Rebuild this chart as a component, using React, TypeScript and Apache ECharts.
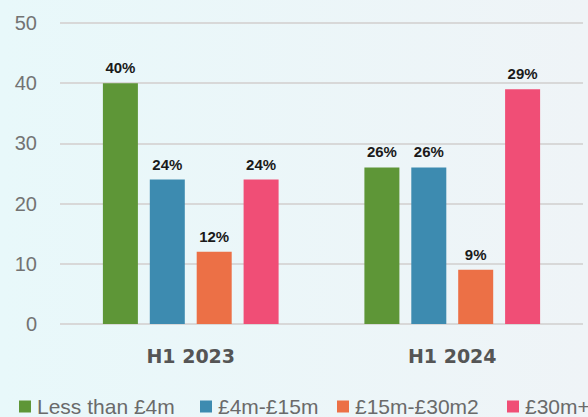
import React, { useEffect, useRef } from "react";
import * as echarts from "echarts";

const categories = ["H1 2023", "H1 2024"];
const seriesNames = ["Less than £4m", "£4m-£15m", "£15m-£30m2", "£30m+"];
const lessThan4m = [40, 26];
const from4to15 = [24, 26];
const from15to30 = [12, 9];
const over30 = [24, 39];
const lessThan4mLabels = ["40%", "26%"];
const from4to15Labels = ["24%", "26%"];
const from15to30Labels = ["12%", "9%"];
const over30Labels = ["24%", "29%"];
const yTicks = [0, 10, 20, 30, 40, 50];

const colors = ["#5e9637", "#3d8bb0", "#ec7046", "#f04e76"];
const legendLefts = [19, 200, 337, 507];

export default function App() {
  const ref = useRef<HTMLDivElement>(null);
  useEffect(() => {
    if (!ref.current) return;
    const chart = echarts.init(ref.current, undefined, { renderer: "svg" });
    const values = [lessThan4m, from4to15, from15to30, over30];
    const labels = [lessThan4mLabels, from4to15Labels, from15to30Labels, over30Labels];
    chart.setOption({
      animation: false,
      backgroundColor: {
        type: "linear",
        x: 0,
        y: 0,
        x2: 1,
        y2: 0,
        colorStops: [
          { offset: 0, color: "#e8f8fa" },
          { offset: 1, color: "#eff4f7" },
        ],
      },
      textStyle: { fontFamily: "Liberation Sans, Arial, sans-serif" },
      grid: { left: 60, right: 5, top: 23, bottom: 93 },
      legend: seriesNames.map((name, i) => ({
        top: 396,
        left: legendLefts[i],
        padding: 0,
        itemWidth: 12,
        itemHeight: 12,
        itemGap: 0,
        icon: "rect",
        textStyle: { fontSize: 21, color: "#6a6a6a", padding: [0, 0, 0, 1] },
        data: [name],
      })),
      xAxis: {
        type: "category",
        data: categories,
        axisLine: { show: false },
        axisTick: { show: false },
        axisLabel: {
          fontSize: 19,
          fontWeight: "bold",
          fontFamily: "DejaVu Sans, sans-serif",
          color: "#555555",
          margin: 22,
        },
      },
      yAxis: {
        type: "value",
        min: yTicks[0],
        max: yTicks[yTicks.length - 1],
        interval: 10,
        axisLine: { show: false },
        axisTick: { show: false },
        axisLabel: { fontSize: 20, color: "#737373", margin: 23 },
        splitLine: { lineStyle: { color: "#d8d8d8", width: 2 } },
      },
      series: seriesNames.map((name, i) => ({
        name,
        type: "bar",
        barWidth: 35,
        barGap: "34%",
        itemStyle: { color: colors[i] },
        data: values[i],
        label: {
          show: true,
          position: "top",
          distance: 8,
          fontSize: 15,
          fontWeight: "bold",
          color: "#1a1a1a",
          formatter: (p: any) => labels[i][p.dataIndex],
        },
      })),
    });
    return () => chart.dispose();
  }, []);
  return (
    <div
      ref={ref}
      style={{ position: "fixed", left: 0, top: 0, width: 588, height: 417 }}
    />
  );
}
